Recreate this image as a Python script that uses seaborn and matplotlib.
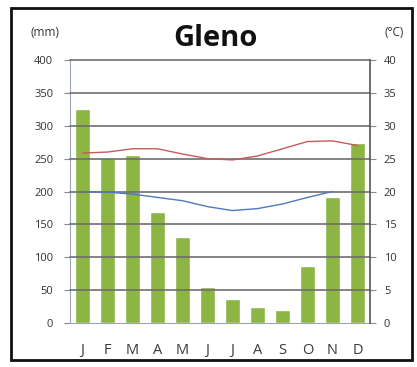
import matplotlib
matplotlib.use("Agg")
import matplotlib.pyplot as plt
import seaborn as sns
import pandas as pd
import numpy as np
from matplotlib.patches import Rectangle

months = ["J", "F", "M", "A", "M", "J", "J", "A", "S", "O", "N", "D"]
precip_mm = [325, 251, 255, 169, 131, 55, 36, 25, 20, 86, 191, 274]
tmax_c = [25.85, 26.0, 26.5, 26.5, 25.7, 25.0, 24.8, 25.4, 26.5, 27.6, 27.7, 27.0]
tmin_c = [20.0, 19.9, 19.6, 19.1, 18.6, 17.7, 17.1, 17.4, 18.1, 19.1, 20.0, np.nan]
left_ticks = [0, 50, 100, 150, 200, 250, 300, 350, 400]
right_ticks = [0, 5, 10, 15, 20, 25, 30, 35, 40]

sns.set_style("white")
plt.rcParams["font.family"] = ["Open Sans", "DejaVu Sans"]

df = pd.DataFrame({"idx": list(range(12)), "precip": precip_mm,
                   "tmax": tmax_c, "tmin": tmin_c})

fig = plt.figure(figsize=(4.17, 3.67), dpi=100)
ax = fig.add_axes([70 / 417, 1 - 323 / 367, 300 / 417, 263 / 367])

sns.barplot(data=df, x="idx", y="precip", color="#8cb543", saturation=1,
            width=0.6, ax=ax, zorder=2)
ax.set_xlim(-0.5, 11.5)
ax.set_ylim(0, 400)
ax.set_yticks(left_ticks)
ax.set_yticklabels([str(t) for t in left_ticks])
ax.set_xticks(range(12))
ax.set_xticklabels(months)
ax.set_xlabel("")
ax.set_ylabel("")

ax2 = ax.twinx()
sns.lineplot(data=df, x="idx", y="tmax", color="#c85a5a", lw=1.0, ax=ax2, zorder=3)
sns.lineplot(data=df, x="idx", y="tmin", color="#5078c0", lw=1.0, ax=ax2, zorder=3)
ax2.set_ylim(0, 40)
ax2.set_yticks(right_ticks)
ax2.set_yticklabels([str(t) for t in right_ticks])
ax2.set_xlim(-0.5, 11.5)
ax2.set_ylabel("")
ax2.set_xlabel("")

# gridlines drawn on top of bars
for t in left_ticks[1:]:
    ax2.axhline(t / 10, color="#6e6e6e", lw=1.2, zorder=1, clip_on=False)

for a in (ax, ax2):
    a.spines["top"].set_visible(False)
ax.spines["left"].set_color("#9aa6b8")
ax.spines["bottom"].set_color("#9aa6b8")
ax.spines["right"].set_visible(False)
ax2.spines["left"].set_visible(False)
ax2.spines["bottom"].set_visible(False)
ax2.spines["right"].set_color("#555555")
ax2.spines["right"].set_linewidth(1.2)

ax.tick_params(axis="y", left=True, length=4, color="#8a8a8a", labelsize=8,
               labelcolor="#333333", pad=8)
ax.tick_params(axis="x", bottom=False, labelsize=10.5, labelcolor="#3a3a3a", pad=11)
ax2.tick_params(axis="y", right=True, length=4, color="#8a8a8a", labelsize=8,
                labelcolor="#333333", pad=6)

fig.text(45 / 417, 1 - 32 / 367, "(mm)", fontsize=8.5, color="#333333",
         ha="center", va="center")
fig.text(394 / 417, 1 - 32 / 367, "(°C)", fontsize=8.5, color="#333333",
         ha="center", va="center")
fig.text(215 / 417, 1 - 38 / 367, "Gleno", fontsize=21, fontweight="bold",
         color="#111111", ha="center", va="center")

fig.patches.append(Rectangle((11 / 417, 1 - 360 / 367), 401 / 417, 352 / 367,
                             transform=fig.transFigure, fill=False,
                             edgecolor="#111111", lw=2.0))

fig.savefig("out.png", dpi=100)
